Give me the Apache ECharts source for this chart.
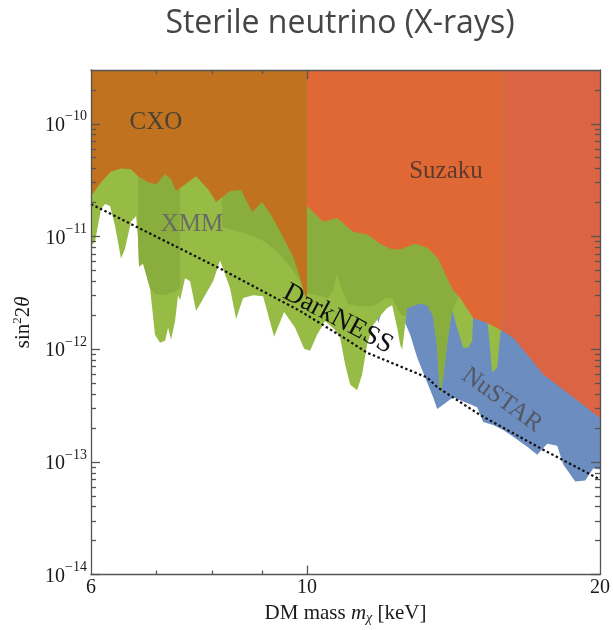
<!DOCTYPE html>
<html><head><meta charset="utf-8">
<script src="https://cdn.jsdelivr.net/npm/echarts@6/dist/echarts.min.js"></script>
<style>html,body{margin:0;padding:0;background:#fff}#c{width:613px;height:630px}</style>
</head><body><div id="c"></div>
<script>
// ---------- data (mass in keV, sin^2 2theta) ----------
const xTickLabels = [6, 10, 20];
const xMajorTicks = [10];
const xMinorTicks = [7, 8, 9];
const yDecades = [1e-14, 1e-13, 1e-12, 1e-11, 1e-10];
const yMinorTicks = [2e-14,3e-14,4e-14,5e-14,6e-14,7e-14,8e-14,9e-14,
  2e-13,3e-13,4e-13,5e-13,6e-13,7e-13,8e-13,9e-13,
  2e-12,3e-12,4e-12,5e-12,6e-12,7e-12,8e-12,9e-12,
  2e-11,3e-11,4e-11,5e-11,6e-11,7e-11,8e-11,9e-11, 2e-10];
const yTop = 3e-10;

const cxoRegion = [[6,3e-10],[6.0,2.28e-11],[6.144,3.03e-11],[6.291,3.78e-11],[6.441,4.02e-11],[6.596,3.94e-11],
  [6.706,3.42e-11],[6.867,3.03e-11],[6.998,2.91e-11],[7.149,3.56e-11],[7.251,3.22e-11],[7.337,2.53e-11],
  [7.549,3.03e-11],[7.693,3.42e-11],[7.914,2.63e-11],[8.066,2.02e-11],[8.337,2.53e-11],[8.557,2.58e-11],
  [8.783,1.65e-11],[8.993,2.02e-11],[9.187,1.55e-11],[9.429,1.02e-11],[9.678,6.64e-12],[9.839,4.25e-12],
  [9.956,2.95e-12],[10,2.67e-12],[10,3e-10]];

const suzakuRegionA = [[10,3e-10],[10,1.86e-11],[10.39,1.35e-11],[10.739,1.46e-11],[11.154,1.10e-11],[11.53,1.04e-11],
  [11.89,8.64e-12],[12.175,7.80e-12],[12.466,7.65e-12],[12.916,8.64e-12],[13.289,7.96e-12],[13.639,6.37e-12],
  [13.933,4.25e-12],[14.13,3.34e-12],[14.367,2.84e-12],[14.816,1.89e-12],[15.316,1.71e-12],[15.888,1.45e-12],[15.888,3e-10]];

const suzakuRegionB = [[15.888,3e-10],[15.888,1.45e-12],[16.288,1.26e-12],[16.836,8.95e-13],[17.486,5.97e-13],
  [18.203,4.59e-13],[18.951,3.53e-13],[20,2.45e-13],[20,3e-10]];

const xmmRegion = [[6.0,8.29e-12],[6.057,8.99e-12],[6.144,1.75e-11],[6.2025,1.94e-11],[6.276,1.86e-11],[6.351,1.24e-11],
  [6.441,6.37e-12],[6.503,7.80e-12],[6.596,1.35e-11],[6.675,1.52e-11],[6.706,9.56e-12],[6.722,5.42e-12],[6.786,5.76e-12],
  [6.899,3.47e-12],[6.981,1.34e-12],[7.064,1.14e-12],[7.149,1.19e-12],[7.2,1.55e-12],[7.251,1.21e-12],[7.32,1.78e-12],
  [7.372,3.01e-12],[7.407,2.72e-12],[7.495,4.25e-12],[7.584,4.00e-12],[7.693,2.18e-12],[7.859,3.01e-12],[8.009,4.00e-12],
  [8.142,6.12e-12],[8.337,3.47e-12],[8.457,1.85e-12],[8.598,2.84e-12],[8.804,3.01e-12],[9.014,2.95e-12],[9.252,1.29e-12],
  [9.474,2.14e-12],[9.723,1.55e-12],[9.933,1.01e-12],[10.075,9.70e-13],[10.243,1.34e-12],[10.438,1.78e-12],[10.688,1.48e-12],
  [10.816,1.26e-12],[10.945,7.31e-13],[11.075,4.87e-13],[11.26,4.32e-13],[11.394,5.97e-13],[11.53,1.10e-12],[11.694,1.64e-12],
  [11.89,1.97e-12],[12.089,2.32e-12],[12.233,2.46e-12],[12.378,1.55e-12],[12.466,1.10e-12],[12.525,9.90e-13],[12.614,1.64e-12],
  [12.674,2.32e-12],[13.07,2.56e-12],[13.289,2.46e-12],[13.478,1.97e-12],[13.607,1.03e-12],[13.704,3.98e-13],[13.801,5.62e-13],
  [13.933,1.14e-12],[14.098,2.23e-12],[14.266,1.55e-12],[14.469,1.03e-12],[14.642,1.03e-12],[14.781,1.19e-12],[14.816,1.97e-12],
  [15.28,1.89e-12],[15.352,1.55e-12],[15.497,6.21e-13],[15.683,6.88e-13],[15.794,1.34e-12],[15.907,1.89e-12],[15.907,3e-10],[6,3e-10]];

const xmmOverlap1 = [[6.706,3e-10],[6.706,9.56e-12],[6.722,5.42e-12],[6.786,5.76e-12],[6.899,3.47e-12],[6.981,3.08e-12],
  [7.149,3.01e-12],[7.32,3.27e-12],[7.407,3.47e-12],[7.407,3e-10]];
const xmmOverlap2 = [[8.181,3e-10],[8.181,1.22e-11],[8.437,1.12e-11],[8.679,1.06e-11],[9.014,9.18e-12],[9.318,7.34e-12],
  [9.609,5.42e-12],[9.839,4.00e-12],[10,2.84e-12],[10,3e-10]];
const xmmOverlap3 = [[10,3e-10],[10,3.14e-12],[10.243,3.01e-12],[10.513,2.84e-12],[10.638,3.34e-12],[10.739,4.71e-12],
  [10.842,3.47e-12],[11.023,2.51e-12],[11.341,2.41e-12],[11.667,2.41e-12],[11.834,2.56e-12],[12.031,2.84e-12],[12.233,2.84e-12],
  [12.378,2.32e-12],[12.525,1.97e-12],[12.614,1.97e-12],[12.674,2.32e-12],[13.07,2.56e-12],[13.289,2.46e-12],[13.478,1.97e-12],
  [13.607,1.03e-12],[13.704,3.98e-13],[13.801,5.62e-13],[13.933,1.14e-12],[14.098,2.23e-12],[14.3,2.84e-12],[14.3,3e-10]];

const nustarRegion = [[11.722,3e-10],[11.722,3.0e-12],[11.834,1.70e-12],[11.947,2.22e-12],[12.06,2.84e-12],[12.584,2.84e-12],
  [12.614,1.71e-12],[12.765,1.34e-12],[12.978,8.42e-13],[13.226,5.62e-13],[13.478,3.75e-13],[13.607,2.94e-13],[13.867,3.32e-13],
  [14.13,3.75e-13],[14.367,3.53e-13],[14.712,3.25e-13],[14.958,3.06e-13],[15.172,2.26e-13],[15.534,2.13e-13],[15.907,1.92e-13],
  [16.288,1.67e-13],[16.836,1.36e-13],[17.239,1.16e-13],[17.653,1.45e-13],[18.075,1.39e-13],[18.334,9.46e-14],[18.862,6.71e-14],
  [19.313,6.84e-14],[19.682,8.72e-14],[20,8.55e-14],[20,3e-10]];

const darknessLine = [[6,1.94e-11],[8.14,5.2e-12],[9.84,2.18e-12],[11.0,1.21e-12],[11.53,9.3e-13],[13.29,5.6e-13],
  [13.61,4.6e-13],[15.07,2.6e-13],[17.49,1.28e-13],[20,6.98e-14]];

// ---------- chart ----------
const SERIF = '"Liberation Serif","DejaVu Serif",serif';
const chart = echarts.init(document.getElementById('c'), null, {renderer: 'canvas'});

function poly(data, color) {
  return {
    type: 'custom', coordinateSystem: 'cartesian2d', xAxisIndex: 0, yAxisIndex: 0,
    data: data, clip: true, silent: true,
    renderItem: function (params, api) {
      if (params.dataIndex !== 0) return null;
      return { type: 'polygon', shape: { points: data.map(function (p) { return api.coord(p); }) },
               style: { fill: color, stroke: null } };
    }
  };
}

const axLine = { color: '#555', width: 1.3 };
function xAx(pos, ticks, len, showLine, label, extra) {
  return Object.assign({
    type: 'log', logBase: 10, min: 6, max: 20, position: pos, z: 10,
    axisLine: { show: showLine, lineStyle: axLine },
    axisTick: { show: true, inside: true, length: len, customValues: ticks, lineStyle: axLine },
    axisLabel: label || { show: false },
    splitLine: { show: false }
  }, extra || {});
}
function yAx(pos, ticks, len, showLine, label, extra) {
  return Object.assign({
    type: 'log', logBase: 10, min: 1e-14, max: yTop, position: pos, z: 10,
    axisLine: { show: showLine, lineStyle: axLine },
    axisTick: { show: true, inside: true, length: len, customValues: ticks, lineStyle: axLine },
    axisLabel: label || { show: false },
    splitLine: { show: false }
  }, extra || {});
}

const option = {
  animation: false,
  backgroundColor: '#fff',
  grid: { left: 91, right: 13, top: 70, bottom: 51, containLabel: false },
  xAxis: [
    xAx('bottom', xMajorTicks, 9, true, {
      customValues: xTickLabels, margin: 3,
      formatter: function (v) { return String(Math.round(v)); },
      fontFamily: SERIF, fontSize: 20, color: '#1a1a1a'
    }, {
      name: '{t|DM mass }{i|m}{sub|χ}{t| [keV]}', nameLocation: 'middle', nameGap: 22,
      nameTextStyle: { rich: {
        t: { fontFamily: SERIF, fontSize: 21, color: '#1a1a1a' },
        i: { fontFamily: SERIF, fontSize: 21, fontStyle: 'italic', color: '#1a1a1a' },
        sub: { fontFamily: SERIF, fontSize: 14, fontStyle: 'italic', color: '#1a1a1a', padding: [10, 0, 0, 0] }
      } }
    }),
    xAx('bottom', xMinorTicks, 4, false),
    xAx('top', xMajorTicks, 9, true),
    xAx('top', xMinorTicks, 4, false)
  ],
  yAxis: [
    yAx('left', yDecades, 9, true, {
      customValues: yDecades, margin: 4,
      formatter: function (v) { const e = Math.round(Math.log10(v)); return '{b|10}{s|\u2212' + Math.abs(e) + '}'; },
      rich: {
        b: { fontFamily: SERIF, fontSize: 20, color: '#1a1a1a', padding: [4, 0, 0, 0] },
        s: { fontFamily: SERIF, fontSize: 14, color: '#1a1a1a', padding: [0, 0, 14, 0] }
      }
    }, {
      name: '{t|sin}{sup|2}{t|2}{i|θ}', nameLocation: 'middle', nameGap: 52,
      nameTextStyle: { rich: {
        t: { fontFamily: SERIF, fontSize: 21, color: '#1a1a1a' },
        i: { fontFamily: SERIF, fontSize: 21, fontStyle: 'italic', color: '#1a1a1a' },
        sup: { fontFamily: SERIF, fontSize: 13, color: '#1a1a1a', padding: [0, 0, 12, 0] }
      } }
    }),
    yAx('left', yMinorTicks, 5, false),
    yAx('right', yDecades, 9, true),
    yAx('right', yMinorTicks, 5, false)
  ],
  graphic: [
    { type: 'text', x: 340, y: 24, z: 100, style: { text: 'Sterile neutrino (X-rays)', font: '32px "Open Sans"', fill: '#454545', align: 'center', verticalAlign: 'middle' } },
    { type: 'text', x: 156, y: 122, z: 100, style: { text: 'CXO', font: '25px ' + SERIF, fill: '#4a4236', align: 'center', verticalAlign: 'middle' } },
    { type: 'text', x: 192, y: 224, z: 100, style: { text: 'XMM', font: '25px ' + SERIF, fill: '#676d64', align: 'center', verticalAlign: 'middle' } },
    { type: 'text', x: 446, y: 171, z: 100, style: { text: 'Suzaku', font: '25px ' + SERIF, fill: '#5c3b2e', align: 'center', verticalAlign: 'middle' } },
    { type: 'text', x: 502, y: 400, z: 100, rotation: -36 * Math.PI / 180, style: { text: 'NuSTAR', font: '25px ' + SERIF, fill: '#535862', align: 'center', verticalAlign: 'middle' } },
    { type: 'text', x: 338, y: 319, z: 100, rotation: -28 * Math.PI / 180, style: { text: 'DarkNESS', font: '27px ' + SERIF, fill: '#111', align: 'center', verticalAlign: 'middle' } }
  ],
  series: [
    poly(nustarRegion, '#6c8dc0'),
    poly(xmmRegion, '#97bc45'),
    poly(xmmOverlap1, '#8aae3e'),
    poly(xmmOverlap2, '#8aae3e'),
    poly(xmmOverlap3, '#8aae3e'),
    poly(cxoRegion, '#c1721f'),
    poly(suzakuRegionA, '#e06834'),
    poly(suzakuRegionB, '#db6445'),
    { type: 'line', xAxisIndex: 0, yAxisIndex: 0, data: darknessLine, symbol: 'none', silent: true,
      lineStyle: { color: '#111', width: 2.2, type: [2.5, 2.5] }, z: 5 }
  ]
};
chart.setOption(option);
</script></body></html>
